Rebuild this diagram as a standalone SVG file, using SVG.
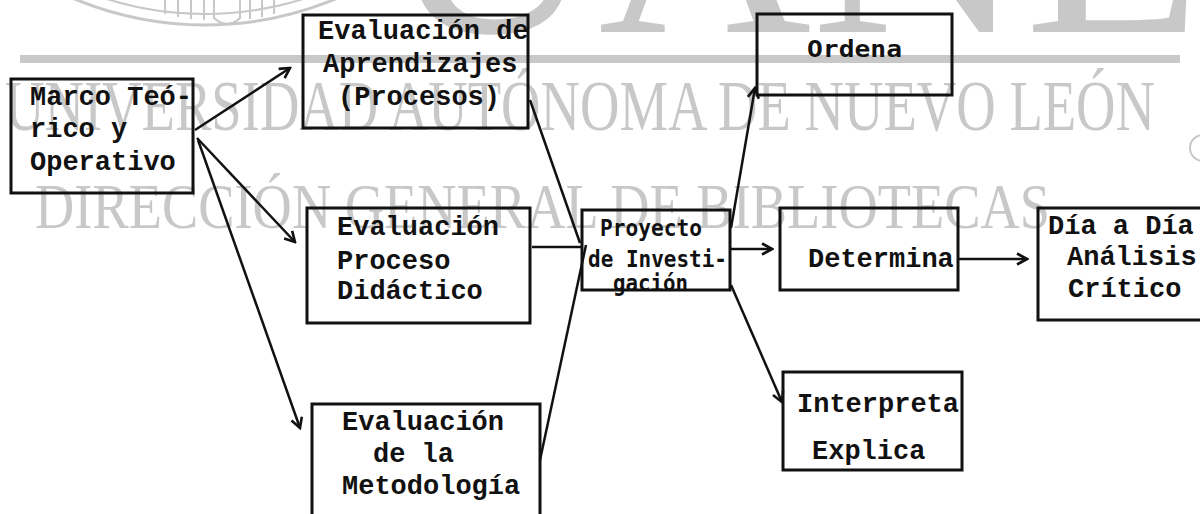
<svg xmlns="http://www.w3.org/2000/svg" width="1200" height="514" viewBox="0 0 1200 514">
<style>
.wm{fill:#c8c8c8;font-family:"Liberation Serif","Times New Roman",serif}
.wml{fill:none;stroke:#c8c8c8}
.box{fill:none;stroke:#111;stroke-width:3}
.t{font-family:"Liberation Mono","Courier New",monospace;font-size:27px;font-weight:bold;fill:#111}
.s{font-family:"DejaVu Sans Mono","Liberation Mono",monospace;font-weight:bold;fill:#111}
.c{fill:none;stroke:#111;stroke-width:2.5}
</style>
<defs>
<marker id="ah" viewBox="0 0 14 14" refX="12" refY="7" markerWidth="14" markerHeight="14" markerUnits="userSpaceOnUse" orient="auto">
<path d="M2,1.5 L12,7 L2,12.5" fill="none" stroke="#111" stroke-width="2.6"/>
</marker>
</defs>
<rect width="1200" height="514" fill="#fff"/>
<g id="watermark">
<circle class="wml" cx="205" cy="-315" r="340" stroke-width="3"/>
<circle class="wml" cx="205" cy="-315" r="329" stroke-width="2"/>
<path class="wml" stroke-width="2" d="M165,0 V14 M178,0 V17 M191,0 V19 M204,0 V20 M250,0 V19 M262,0 V17 M274,0 V14 M214,0 V18 Q227,30 240,18 V0"/>
<text class="wm" x="385" y="32" font-size="280" textLength="820" lengthAdjust="spacingAndGlyphs">UANL</text>
<rect x="20" y="55" width="1160" height="8" fill="#c8c8c8"/>
<text class="wm" x="5" y="130" font-size="72" textLength="1150" lengthAdjust="spacingAndGlyphs">UNIVERSIDAD AUTÓNOMA DE NUEVO LEÓN</text>
<text class="wm" x="35" y="228" font-size="64" textLength="1015" lengthAdjust="spacingAndGlyphs">DIRECCIÓN GENERAL DE BIBLIOTECAS</text>
<circle class="wml" cx="1203" cy="148" r="13" stroke-width="2"/>
</g>
<g id="connectors">
<line class="c" x1="195" y1="130" x2="290" y2="68" marker-end="url(#ah)"/>
<line class="c" x1="197" y1="138" x2="295" y2="242" marker-end="url(#ah)"/>
<line class="c" x1="198" y1="140" x2="300" y2="428" marker-end="url(#ah)"/>
<line class="c" x1="530" y1="100" x2="580" y2="243"/>
<line class="c" x1="532" y1="247" x2="582" y2="247"/>
<line class="c" x1="540" y1="460" x2="586" y2="245"/>
<line class="c" x1="731" y1="228" x2="755" y2="88" marker-end="url(#ah)"/>
<line class="c" x1="730" y1="249" x2="772" y2="249" marker-end="url(#ah)"/>
<line class="c" x1="731" y1="285" x2="782" y2="402" marker-end="url(#ah)"/>
<line class="c" x1="958" y1="259" x2="1027" y2="259" marker-end="url(#ah)"/>
</g>
<g id="marco">
<rect class="box" x="11" y="79" width="182" height="114"/>
<text class="t" x="30" y="105">Marco Teó-</text>
<text class="t" x="30" y="137">rico y</text>
<text class="t" x="30" y="170">Operativo</text>
</g>
<g id="eval-aprendizajes">
<rect class="box" x="303" y="15" width="225" height="113"/>
<text class="t" x="318" y="39">Evaluación de</text>
<text class="t" x="323" y="72">Aprendizajes</text>
<text class="t" x="338" y="105">(Procesos)</text>
</g>
<g id="eval-proceso">
<rect class="box" x="307" y="208" width="223" height="115"/>
<text class="t" x="337" y="235">Evaluación</text>
<text class="t" x="337" y="269">Proceso</text>
<text class="t" x="337" y="299">Didáctico</text>
</g>
<g id="eval-metodologia">
<rect class="box" x="312" y="404" width="228" height="130"/>
<text class="t" x="342" y="430">Evaluación</text>
<text class="t" x="373" y="462">de la</text>
<text class="t" x="342" y="494">Metodología</text>
</g>
<g id="proyecto">
<rect class="box" x="582" y="210" width="148" height="80"/>
<text class="s" font-size="22.5" x="600" y="236" textLength="102" lengthAdjust="spacingAndGlyphs">Proyecto</text>
<text class="s" font-size="22.5" x="588" y="267" textLength="139" lengthAdjust="spacingAndGlyphs">de Investi-</text>
<text class="s" font-size="22.5" x="613" y="291" textLength="75" lengthAdjust="spacingAndGlyphs">gación</text>
</g>
<g id="ordena">
<rect class="box" x="757" y="14" width="195" height="81"/>
<text class="s" font-size="23" x="807" y="57" textLength="95" lengthAdjust="spacingAndGlyphs">Ordena</text>
</g>
<g id="determina">
<rect class="box" x="780" y="208" width="178" height="82"/>
<text class="t" x="808" y="267">Determina</text>
</g>
<g id="dia-a-dia">
<rect class="box" x="1038" y="208" width="180" height="112"/>
<text class="t" x="1048" y="234">Día a Día</text>
<text class="t" x="1067" y="265">Análisis</text>
<text class="t" x="1068" y="297">Crítico</text>
</g>
<g id="interpreta">
<rect class="box" x="783" y="372" width="179" height="98"/>
<text class="t" x="797" y="412">Interpreta</text>
<text class="t" x="812" y="459">Explica</text>
</g>
</svg>
